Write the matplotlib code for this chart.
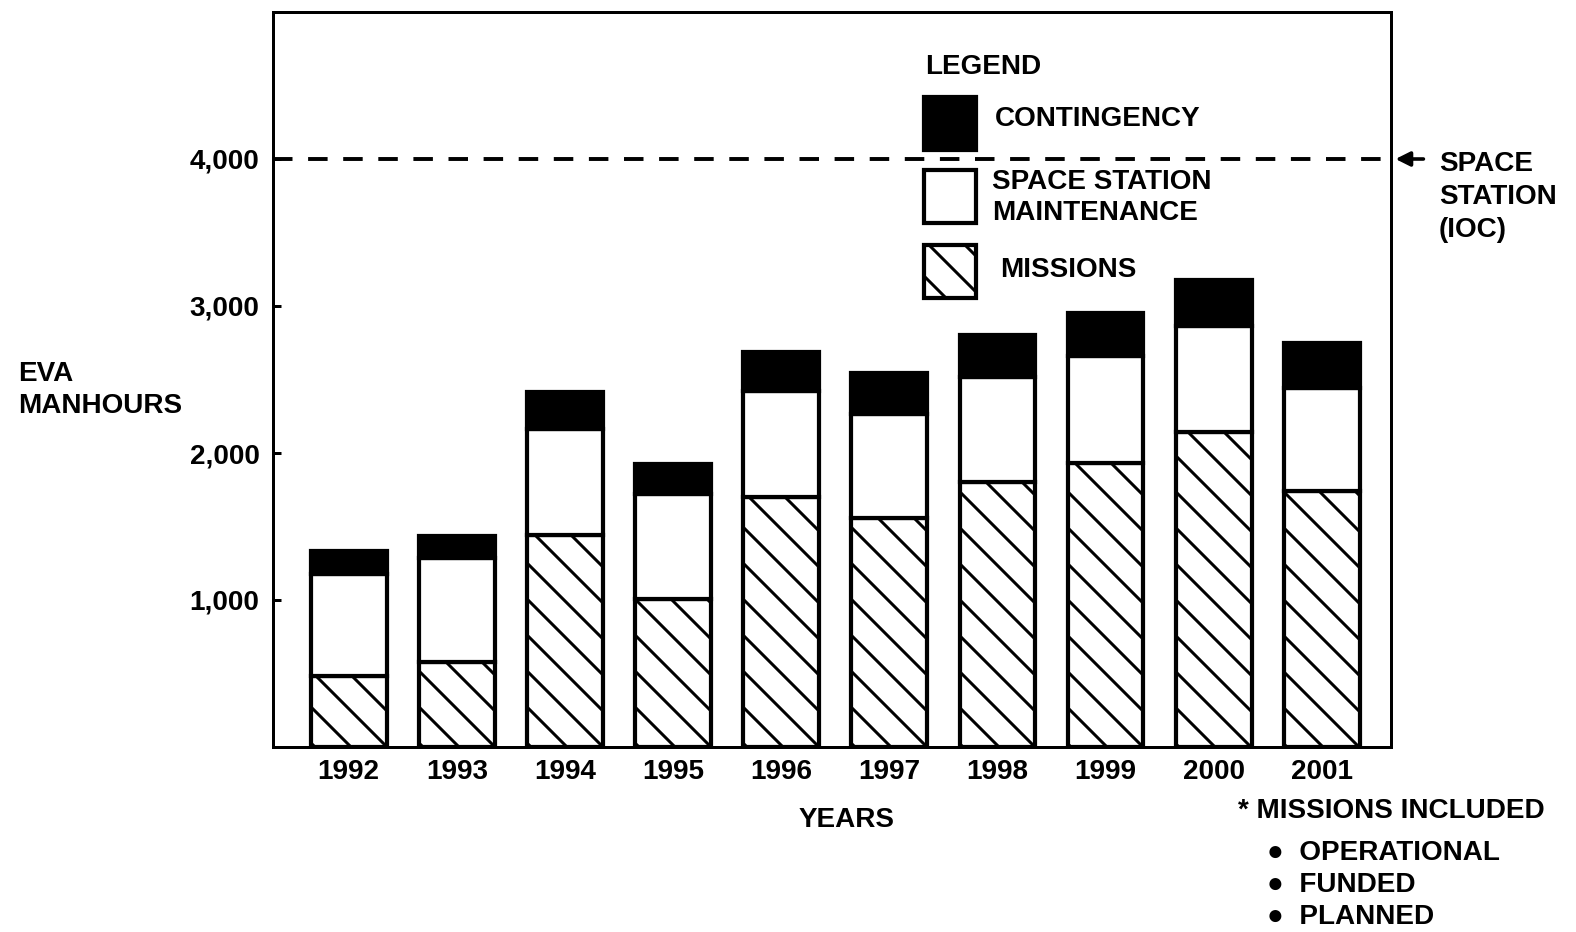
import numpy as np
import matplotlib
matplotlib.use("Agg")
import matplotlib.pyplot as plt
from matplotlib.patches import Rectangle

# EVA manhours per year
years = ['1992', '1993', '1994', '1995', '1996', '1997', '1998', '1999', '2000', '2001']
missions = [480, 575, 1445, 1005, 1700, 1560, 1805, 1935, 2140, 1740]
maintenance = [700, 710, 720, 715, 725, 705, 715, 725, 725, 705]
contingency = [150, 150, 250, 205, 265, 280, 280, 290, 310, 300]
ioc_level = 4000
yticks = [1000, 2000, 3000, 4000]
ytick_labels = ['1,000', '2,000', '3,000', '4,000']

# dpi 216 -> 1 pt = 3 px, and the hatch cell is 216 px so the stripes are wide
DPI = 216
plt.rcParams['font.family'] = ['Liberation Sans', 'DejaVu Sans']
plt.rcParams['font.weight'] = 'bold'
plt.rcParams['font.size'] = 9.3
plt.rcParams['hatch.linewidth'] = 1.0

fig = plt.figure(figsize=(1576 / DPI, 932 / DPI), dpi=DPI)
ax = fig.add_axes([273 / 1576, 1 - 747 / 932, 1118 / 1576, 735 / 932])

x = np.arange(len(years))
w = 0.70
m = np.array(missions)
s = np.array(maintenance)
c = np.array(contingency)

ax.bar(x, m, w, color='white', edgecolor='black', hatch='\\\\', linewidth=1.4)
ax.bar(x, s, w, bottom=m, color='white', edgecolor='black', linewidth=1.4)
ax.bar(x, c, w, bottom=m + s, color='black', edgecolor='black', linewidth=1.4)

# space station IOC line
ax.axhline(ioc_level, color='black', lw=1.3, linestyle=(0, (5.0, 4.0)))
ax.annotate('', xy=(1.004, ioc_level), xytext=(1.029, ioc_level),
            xycoords=('axes fraction', 'data'), textcoords=('axes fraction', 'data'),
            arrowprops=dict(arrowstyle='-|>', color='black', lw=1.2, mutation_scale=10,
                            shrinkA=0, shrinkB=0),
            annotation_clip=False)
fig.text(0.9131, 0.7886, 'SPACE\nSTATION\n(IOC)', ha='left', va='center', linespacing=1.33)

ax.set_xlim(-0.70, 9.64)
ax.set_ylim(0, 5000)
ax.set_xticks(x)
ax.set_xticklabels(years)
ax.set_yticks(yticks)
ax.set_yticklabels(ytick_labels)
ax.tick_params(axis='x', length=0, pad=4)
ax.tick_params(axis='y', direction='in', length=2.7, width=1.0, pad=4.5)
for sp in ax.spines.values():
    sp.set_linewidth(1.0)

fig.text(0.0114, 0.582, 'EVA\nMANHOURS', ha='left', va='center', linespacing=1.3)
fig.text(0.5374, 0.1202, 'YEARS', ha='center', va='center')

# legend drawn by hand, as in the original
fig.text(0.587, 0.9276, 'LEGEND', ha='left', va='center')
boxes = [(0.8391, 'black', None), (0.7607, 'white', None), (0.6803, 'white', '\\\\')]
for y0, fc, h in boxes:
    fig.add_artist(Rectangle((0.5863, y0), 0.033, 0.0568, transform=fig.transFigure,
                             facecolor=fc, edgecolor='black', hatch=h, linewidth=1.4))
fig.text(0.6313, 0.8723, 'CONTINGENCY', ha='left', va='center')
fig.text(0.6294, 0.7886, 'SPACE STATION\nMAINTENANCE', ha='left', va='center', linespacing=1.25)
fig.text(0.6345, 0.7103, 'MISSIONS', ha='left', va='center')

# footnote
fig.text(0.7855, 0.1298, '* MISSIONS INCLUDED', ha='left', va='center')
fig.text(0.804, 0.0504, '\u25cf  OPERATIONAL\n\u25cf  FUNDED\n\u25cf  PLANNED',
         ha='left', va='center', linespacing=1.28)

fig.savefig('out.png', dpi=DPI)
